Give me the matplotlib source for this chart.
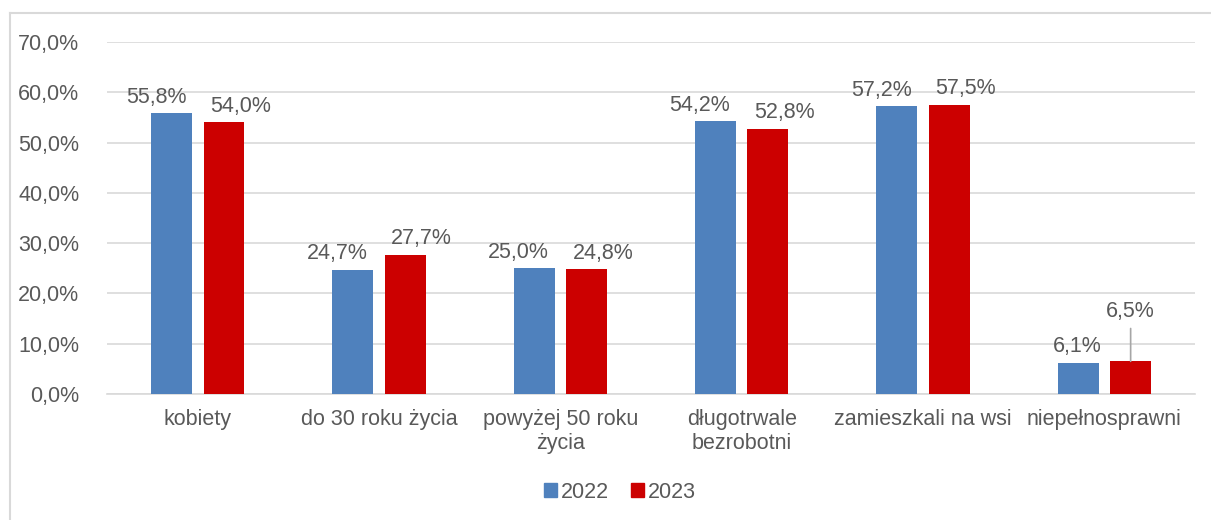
import matplotlib
matplotlib.use("Agg")
import matplotlib.pyplot as plt
from matplotlib.lines import Line2D
from matplotlib.patches import Patch
import numpy as np

plt.rcParams['font.family'] = ['Liberation Sans', 'DejaVu Sans']

categories = ['kobiety', 'do 30 roku życia', 'powyżej 50 roku\nżycia',
              'długotrwale\nbezrobotni', 'zamieszkali na wsi', 'niepełnosprawni']
vals_2022 = [55.8, 24.7, 25.0, 54.2, 57.2, 6.1]
vals_2023 = [54.0, 27.7, 24.8, 52.8, 57.5, 6.5]
years = ['2022', '2023']
colors = ['#4F81BD', '#CC0000']
txt = '#595959'
grid = '#D9D9D9'
fs = 15.5

fig = plt.figure(figsize=(12.11, 5.2), dpi=100)
ax = fig.add_axes([0.0884, 0.2423, 0.8984, 0.6769])

x = np.arange(len(categories))
w = 0.226
off = 0.145
ax.bar(x - off, vals_2022, w, color=colors[0], zorder=3)
ax.bar(x + off, vals_2023, w, color=colors[1], zorder=3)

def fmt(v):
    return f'{v:.1f}'.replace('.', ',') + '%'

# data labels (Excel pushes them apart sideways)
for i in range(len(categories)):
    if i == len(categories) - 1:
        ax.text(x[i] - 0.15, vals_2022[i] + 3.3, fmt(vals_2022[i]), ha='center', va='center',
                fontsize=fs, color=txt)
        ax.annotate(fmt(vals_2023[i]), xy=(x[i] + off, vals_2023[i]),
                    xytext=(x[i] + off, vals_2023[i] + 10.0), ha='center', va='center',
                    fontsize=fs, color=txt,
                    arrowprops=dict(arrowstyle='-', color='#A6A6A6', lw=1.2, shrinkA=3, shrinkB=0))
    else:
        ax.text(x[i] - 0.23, vals_2022[i] + 3.2, fmt(vals_2022[i]), ha='center', va='center',
                fontsize=fs, color=txt)
        ax.text(x[i] + 0.235, vals_2023[i] + 3.2, fmt(vals_2023[i]), ha='center', va='center',
                fontsize=fs, color=txt)

ax.set_xlim(-0.5, len(categories) - 0.5)
ax.set_ylim(0, 70)
ax.set_yticks(np.arange(0, 71, 10))
ax.set_yticklabels([fmt(v) for v in np.arange(0, 71, 10)])
ax.set_xticks(x)
ax.set_xticklabels(categories, linespacing=1.2)
ax.tick_params(axis='y', length=0, pad=20, labelsize=fs, labelcolor=txt)
ax.tick_params(axis='x', length=0, pad=11, labelsize=fs, labelcolor=txt)
ax.grid(axis='y', color=grid, lw=1.2, zorder=0)
for s in ['top', 'right', 'left']:
    ax.spines[s].set_visible(False)
ax.spines['bottom'].set_color(grid)
ax.spines['bottom'].set_linewidth(1.2)

handles = [Patch(color=c, label=y) for c, y in zip(colors, years)]
fig.legend(handles=handles, loc='center', bbox_to_anchor=(0.512, 1 - 492 / 520), ncol=2,
           frameon=False, fontsize=fs, labelcolor=txt, handlelength=0.6, handleheight=0.6,
           handletextpad=0.2, columnspacing=1.0)

# chart border (cut off at right/bottom)
fig.add_artist(Line2D([10 / 1211, 10 / 1211], [0, 1 - 13 / 520], color=grid, lw=1.5,
                      transform=fig.transFigure))
fig.add_artist(Line2D([10 / 1211, 1], [1 - 13 / 520, 1 - 13 / 520], color=grid, lw=1.5,
                      transform=fig.transFigure))

fig.savefig('out.png', dpi=100)
